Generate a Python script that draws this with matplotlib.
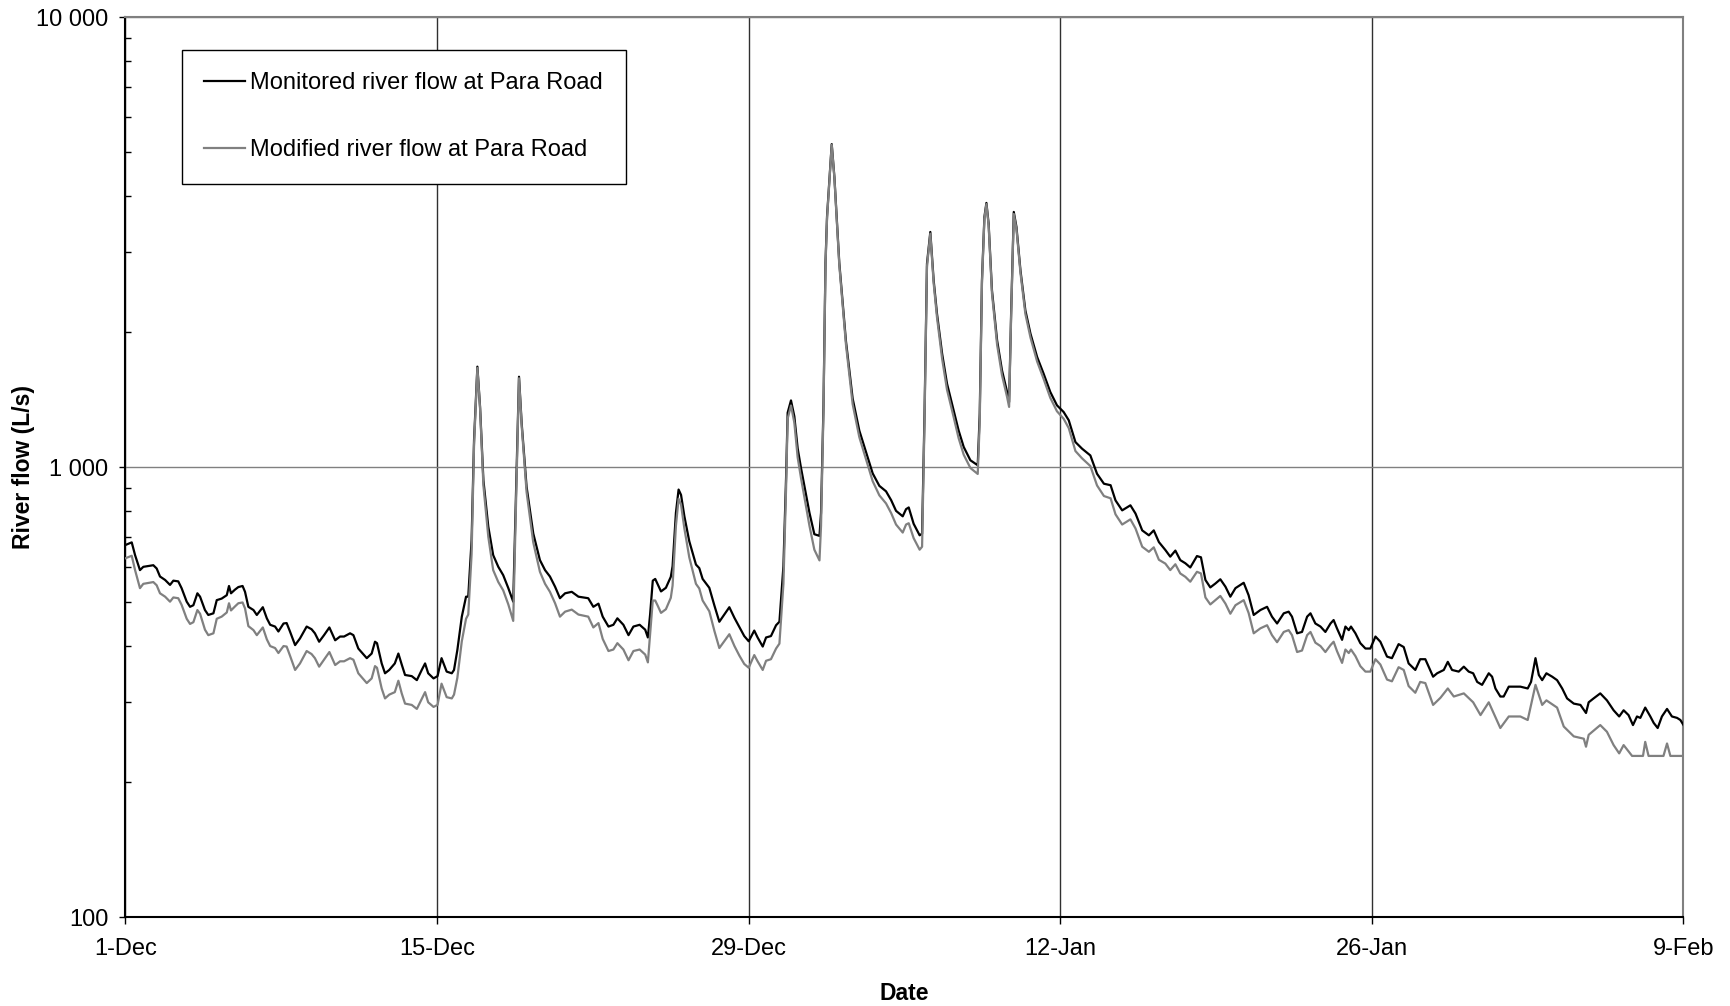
import matplotlib
matplotlib.use("Agg")
import matplotlib.pyplot as plt
from matplotlib.ticker import FixedLocator, FuncFormatter, LogLocator, NullFormatter

plt.rcParams['font.family'] = ['Liberation Sans', 'DejaVu Sans']

# days since 1-Dec, shared by both series up to ~58 days
days = [0, 0.28, 0.43, 0.65, 0.8, 1.25, 1.4, 1.55, 1.78, 2.0, 2.15, 2.37, 2.52, 2.75, 2.9, 3.05,
        3.23, 3.35, 3.57, 3.72, 3.95, 4.1, 4.32, 4.55, 4.65, 4.74, 4.92, 5.07, 5.26, 5.37, 5.52,
        5.75, 5.9, 6.17, 6.35, 6.5, 6.72, 6.87, 7.1, 7.24, 7.39, 7.62, 7.84, 8.14, 8.36, 8.51,
        8.7, 8.92, 9.16, 9.42, 9.64, 9.82, 10.09, 10.24, 10.46, 10.84, 11.06, 11.21, 11.3, 11.51,
        11.66, 11.85,
        12.1, 12.26, 12.41, 12.56, 12.86, 13.09, 13.31, 13.46, 13.6, 13.84, 14.02, 14.2, 14.43,
        14.66, 14.76, 14.91, 15.11, 15.3, 15.4, 15.55, 15.66, 15.81, 15.93, 16.08, 16.3, 16.52,
        16.75, 16.97, 17.2, 17.42, 17.6, 17.68, 17.8, 18.02, 18.32, 18.62, 18.85, 19.07, 19.3,
        19.52, 19.75, 20.05, 20.35, 20.79, 21.02, 21.25, 21.44, 21.7, 21.92, 22.1, 22.37, 22.6,
        22.82, 23.1, 23.35, 23.47,
        23.57, 23.69, 23.8, 23.91, 24.06, 24.28, 24.5, 24.58, 24.73, 24.85, 24.96, 25.11, 25.33,
        25.63, 25.78, 25.93, 26.23, 26.46, 26.68, 26.9, 27.13, 27.36, 27.58, 27.8, 28.0, 28.25,
        28.4, 28.63, 28.78, 29.0, 29.23, 29.38, 29.56, 29.68, 29.75, 29.9, 30.05, 30.2, 30.35,
        30.58, 30.73, 30.95, 31.18, 31.25, 31.36, 31.45, 31.52, 31.73, 31.85, 32.07, 32.37,
        32.67, 32.97, 33.27, 33.57, 33.87, 34.17, 34.4, 34.62, 34.92, 35.07, 35.19,
        35.41, 35.68, 35.79, 35.9, 36.01, 36.16, 36.31, 36.46, 36.69, 36.91, 37.21, 37.43,
        37.66, 37.96, 38.29, 38.38, 38.48, 38.59, 38.68, 38.78, 38.93, 39.16, 39.38, 39.61,
        39.7, 39.79, 39.91, 40.03, 40.21, 40.43, 40.66, 40.96, 41.25, 41.55, 41.85, 42.15,
        42.38, 42.68, 42.98, 43.35, 43.65, 43.96, 44.26, 44.48, 44.78, 45.15, 45.38, 45.68,
        45.98, 46.2, 46.43,
        46.72, 46.94, 47.17, 47.39, 47.62, 47.84, 48.14, 48.32, 48.52, 48.74, 48.97, 49.19,
        49.42, 49.64, 49.87, 50.24, 50.46, 50.69, 50.99, 51.29, 51.51, 51.74, 52.04, 52.26,
        52.41, 52.64, 52.86, 53.09, 53.24, 53.46, 53.69, 53.91, 54.14, 54.28, 54.43, 54.66,
        54.81, 54.96, 55.06, 55.26, 55.48, 55.71, 55.93, 56.16, 56.38, 56.68, 56.9, 57.2,
        57.43, 57.65, 57.95, 58.17]

monitored = [671, 680, 637, 590, 600, 605, 595, 571, 561, 547, 559, 557, 538, 502, 489, 493,
             524, 515, 481, 469, 473, 506, 510, 519, 544, 524, 534, 541, 544, 528, 489,
             481, 469, 488, 461, 446, 442, 431, 449, 450, 431, 402, 416, 442, 436, 427,
             409, 423, 440, 412, 420, 420, 427, 423, 395, 376, 385, 409, 406, 366,
             348, 354,
             366, 385, 364, 345, 343, 336, 354, 366, 348, 339, 343, 376, 351,
             348, 354, 392, 465, 515, 515, 688, 1148, 1671, 1361, 935, 737, 637,
             600, 575, 538, 502, 1110, 1587, 1250, 904, 712, 621, 590, 571, 542,
             511, 524, 528, 515, 511, 489, 497, 465, 442, 446, 461, 446, 423,
             442, 446, 435, 418,
             470, 559, 564, 549, 529, 539, 570, 602, 791, 891, 867, 777, 684,
             607, 596, 564, 539, 492, 453, 470, 488, 462, 441, 421, 410, 433,
             418, 399, 418, 421, 445, 453, 602, 950, 1320, 1406, 1296, 1100, 995,
             867, 791, 709, 703, 791, 1369, 2844, 3606, 5218, 4411, 2844, 1903,
             1420, 1205, 1080, 968, 908, 883, 844, 799, 777, 806, 813,
             748, 705, 711, 1314, 2830, 3329, 2599, 2191, 1786, 1532, 1336, 1206,
             1108, 1035, 1009, 1314, 2599, 3594, 3862, 3473, 2469, 1912, 1640, 1468,
             1394, 2191, 3688, 3415, 2735, 2229, 1978, 1755, 1612, 1468, 1371, 1325,
             1270, 1136, 1098, 1061, 966, 918, 911, 843, 801, 822, 788, 723,
             705, 723, 681,
             654, 632, 652, 621, 611, 598, 634, 630, 561, 540, 551, 563,
             542, 515, 538, 553, 519, 469, 481, 489, 465, 449, 473, 477,
             465, 427, 430, 465, 473, 449, 442, 430, 449, 457, 438, 413,
             442, 434, 442, 427, 406, 395, 395, 420, 409, 379, 376, 404,
             398, 366, 354, 374]

modified = [627, 635, 590, 538, 550, 555, 546, 524, 515, 502, 513, 511, 494, 460, 448, 452,
            481, 472, 435, 423, 427, 460, 465, 475, 498, 480, 490, 498, 500, 485, 443,
            434, 423, 440, 414, 400, 396, 386, 400, 399, 381, 354, 366, 390, 384, 376,
            360, 373, 388, 363, 370, 370, 376, 373, 348, 331, 339, 361, 358, 322,
            306, 312,
            316, 335, 314, 298, 296, 290, 305, 316, 300, 293, 296, 330, 308,
            306, 312, 340, 410, 460, 470, 640, 1120, 1660, 1350, 910, 700, 590,
            555, 532, 495, 455, 1080, 1575, 1235, 880, 680, 585, 550, 528, 498,
            465, 477, 482, 470, 465, 440, 450, 415, 390, 393, 406, 393, 372,
            390, 393, 383, 368,
            425, 505, 505, 492, 474, 483, 512, 545, 740, 850, 825, 730, 630,
            550, 537, 505, 478, 432, 396, 410, 425, 400, 381, 365, 358, 382,
            370, 354, 371, 374, 395, 405, 550, 900, 1280, 1370, 1255, 1050, 945,
            815, 740, 655, 620, 740, 1330, 2800, 3570, 5200, 4390, 2810, 1870,
            1380, 1165, 1040, 930, 865, 830, 790, 745, 715, 745, 750,
            695, 655, 665, 1270, 2790, 3300, 2560, 2150, 1740, 1485, 1290, 1160,
            1065, 995, 965, 1260, 2560, 3560, 3840, 3440, 2430, 1870, 1600, 1430,
            1360, 2150, 3650, 3380, 2700, 2190, 1940, 1715, 1570, 1425, 1330, 1280,
            1220, 1085, 1045, 1005, 910, 862, 852, 785, 745, 765, 730, 665,
            648, 663, 622,
            610, 590, 608, 580, 570, 556, 585, 580, 513, 495, 506, 517,
            497, 472, 493, 506, 474, 427, 438, 445, 423, 408, 430, 434,
            423, 388, 391, 423, 430, 407, 400, 388, 402, 409, 390, 367,
            393, 386, 393, 380, 361, 351, 351, 374, 364, 337, 334, 359,
            354, 326, 315, 333]

# last stretch (to 9-Feb) read separately for each line
tail_days_mon = [58.4, 58.55, 58.75, 58.93, 59.08, 59.23, 59.41, 59.6, 59.9, 60.13, 60.35,
                 60.55, 60.73, 60.95, 61.25, 61.4, 61.55, 61.77, 61.92, 62.15, 62.37, 62.67,
                 63.0, 63.15, 63.35, 63.5, 63.65, 63.84, 64.1, 64.32, 64.55, 64.77, 65.07,
                 65.37, 65.62, 65.74, 65.96, 66.26, 66.56, 66.86, 67.11, 67.31, 67.53, 67.73,
                 67.91, 68.06, 68.28, 68.51, 68.66, 68.84, 69.03, 69.26, 69.48, 69.71, 69.86, 70.0]
tail_mon = [374, 360, 342, 348, 351, 354, 369, 354, 351, 360, 351,
            348, 333, 328, 348, 342, 322, 309, 309, 325, 325, 325,
            322, 333, 376, 345, 336, 348, 342, 336, 322, 306, 298,
            296, 284, 300, 306, 314, 303, 288, 279, 288, 281, 267,
            279, 277, 292, 279, 270, 263, 279, 290, 279, 277, 274, 267]

tail_days_mod = [58.4, 58.75, 59.08, 59.41, 59.68, 60.13, 60.55, 60.88, 61.25, 61.77, 62.15,
                 62.67, 63.0, 63.35, 63.65, 63.84, 64.32, 64.62, 65.07, 65.52, 65.62, 65.74,
                 66.26, 66.56, 66.86, 67.11, 67.31, 67.69, 68.06, 68.18, 68.28, 68.43, 69.1,
                 69.26, 69.41, 70.0]
tail_mod = [331, 296, 307, 322, 309, 314, 300, 281, 300, 263, 279,
            279, 274, 328, 296, 303, 292, 265, 252, 249, 239, 254,
            267, 258, 241, 231, 241, 228, 228, 228, 245, 228, 228,
            243, 228, 228]

tick_days = [0, 14, 28, 42, 56, 70]
tick_labels = ['1-Dec', '15-Dec', '29-Dec', '12-Jan', '26-Jan', '9-Feb']

fig = plt.figure(figsize=(17.31, 10.06), dpi=100)
ax = fig.add_axes([125.5 / 1731, 1 - 917 / 1006, 1558 / 1731, 900 / 1006])

ax.plot(days + tail_days_mon, monitored + tail_mon, color='black', lw=1.6,
        label='Monitored river flow at Para Road', zorder=3)
ax.plot(days + tail_days_mod, modified + tail_mod, color='#808080', lw=1.6,
        label='Modified river flow at Para Road', zorder=4)

ax.set_yscale('log')
ax.set_ylim(100, 10000)
ax.set_xlim(0, 70)

ax.yaxis.set_major_locator(FixedLocator([100, 1000, 10000]))
ax.yaxis.set_major_formatter(FuncFormatter(lambda v, p: '{:,.0f}'.format(v).replace(',', ' ')))
ax.yaxis.set_minor_locator(LogLocator(base=10, subs=range(2, 10)))
ax.yaxis.set_minor_formatter(NullFormatter())
ax.set_xticks(tick_days)
ax.set_xticklabels(tick_labels)

ax.tick_params(axis='y', which='major', direction='out', length=4.5, width=1, labelsize=17, pad=8)
ax.tick_params(axis='y', which='minor', direction='in', length=4.5, width=1)
ax.tick_params(axis='x', which='major', direction='out', length=5, width=1, labelsize=17, pad=10)

ax.xaxis.grid(True, color='#303030', lw=1)
ax.yaxis.grid(True, which='major', color='#808080', lw=1)

for side in ['left', 'bottom']:
    ax.spines[side].set_color('black')
    ax.spines[side].set_linewidth(1.5)
for side in ['top', 'right']:
    ax.spines[side].set_color('#808080')
    ax.spines[side].set_linewidth(1.5)

fig.text(24 / 1731, 1 - 467 / 1006, 'River flow (L/s)', rotation=90, ha='center', va='center',
         fontsize=16.5, fontweight='bold')
fig.text(904.5 / 1731, 1 - 994 / 1006, 'Date', ha='center', va='center',
         fontsize=16.5, fontweight='bold')

leg = ax.legend(loc='upper left', bbox_to_anchor=(182 / 1731, 1 - 50 / 1006),
                bbox_transform=fig.transFigure, fontsize=17, frameon=True, fancybox=False,
                borderaxespad=0, borderpad=0.95, handlelength=1.7, handletextpad=0.25,
                labelspacing=1.9)
leg.get_frame().set_edgecolor('black')
leg.get_frame().set_linewidth(1)
leg.get_frame().set_alpha(1)

fig.savefig('out.png', dpi=100)
